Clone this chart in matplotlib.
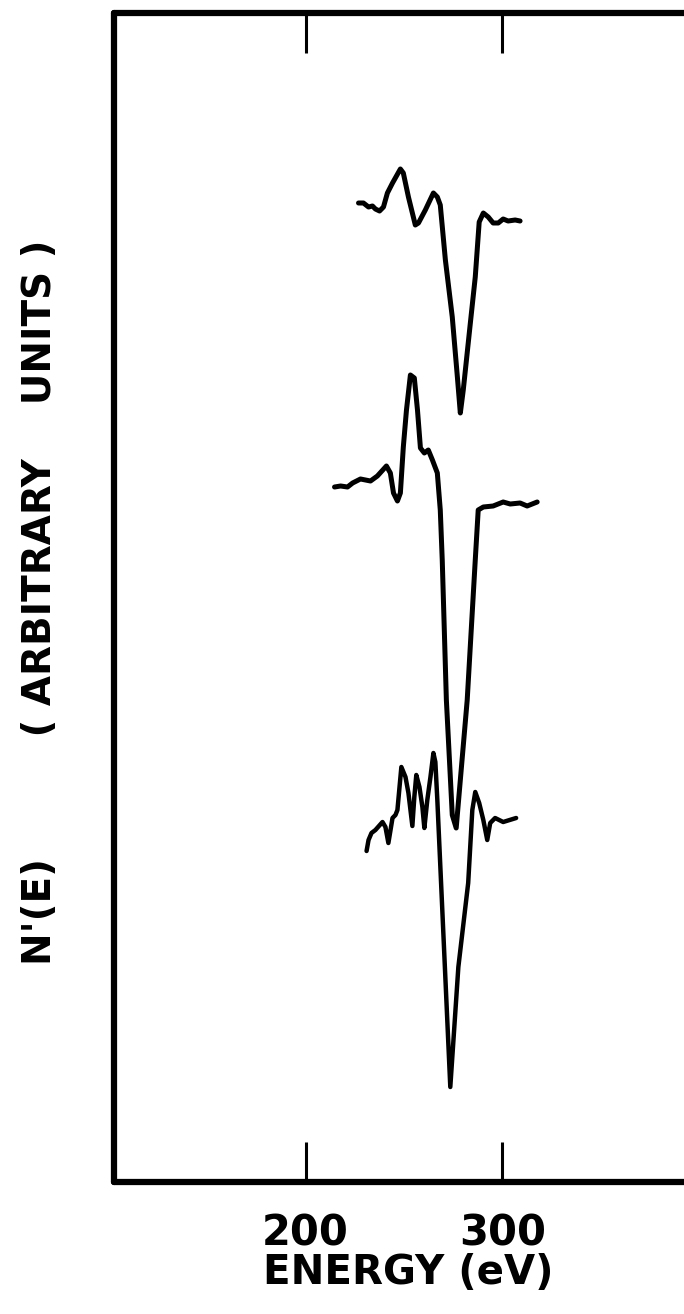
import matplotlib
matplotlib.use("Agg")
import matplotlib.pyplot as plt

# ---- data (energy in eV, signal in arbitrary units) ----
e_top = [226.9, 229.4, 232.0, 234.0, 235.5, 237.6, 239.6, 241.6, 244.2, 248.2, 249.7,
         252.3, 255.8, 257.4, 260.9, 265.0, 267.0, 268.5, 271.1, 274.6, 277.2, 278.7,
         280.2, 283.8, 286.3, 288.3, 290.4, 292.9, 295.4, 298.0, 300.5, 303.0, 306.6, 309.1]
n_top = [9.79, 9.79, 9.75, 9.76, 9.73, 9.71, 9.75, 9.89, 9.99, 10.13, 10.09,
         9.85, 9.57, 9.59, 9.72, 9.89, 9.85, 9.77, 9.22, 8.65, 8.05, 7.69,
         7.92, 8.59, 9.05, 9.60, 9.69, 9.65, 9.59, 9.59, 9.63, 9.61, 9.62, 9.61]

e_mid = [214.7, 217.8, 221.3, 223.9, 227.9, 233.0, 236.5, 241.1, 243.1, 244.7, 246.7,
         248.2, 249.7, 251.3, 253.3, 255.3, 256.9, 258.4, 260.4, 262.4, 264.5, 267.0,
         268.5, 269.5, 271.6, 274.6, 276.6, 282.2, 286.3, 287.8, 290.4, 295.4, 300.5,
         304.1, 309.1, 312.7, 317.8]
n_mid = [6.95, 6.96, 6.95, 6.99, 7.03, 7.01, 7.06, 7.16, 7.09, 6.89, 6.81,
         6.89, 7.35, 7.72, 8.07, 8.04, 7.72, 7.34, 7.29, 7.32, 7.22, 7.09,
         6.72, 6.22, 4.82, 3.67, 3.54, 4.82, 6.22, 6.72, 6.75, 6.76, 6.80,
         6.78, 6.79, 6.76, 6.80]

e_bot = [231.0, 232.0, 233.5, 235.5, 239.1, 240.6, 242.1, 244.2, 245.7, 246.7, 248.7,
         250.8, 252.3, 254.3, 255.3, 256.3, 257.9, 259.4, 260.4, 261.9, 263.5, 265.0,
         266.0, 267.0, 273.6, 277.7, 282.7, 284.8, 286.3, 288.3, 290.4, 292.4, 293.9,
         296.4, 300.5, 307.1]
n_bot = [3.31, 3.42, 3.49, 3.52, 3.60, 3.55, 3.39, 3.64, 3.67, 3.72, 4.15,
         4.05, 3.89, 3.56, 3.85, 4.07, 3.95, 3.75, 3.54, 3.82, 4.05, 4.29,
         4.20, 3.82, 0.95, 2.15, 2.99, 3.72, 3.90, 3.79, 3.62, 3.42, 3.59,
         3.64, 3.60, 3.64]

tick_values = [200, 300]
tick_labels = ["200", "300"]

W, H = 684, 1314
fig = plt.figure(figsize=(W / 100, H / 100), dpi=100)
ax = fig.add_axes([114 / W, (H - 1182) / H, 1 - 114 / W, (1182 - 13) / H])

for e, n, lw in [(e_top, n_top, 3.6), (e_mid, n_mid, 3.6), (e_bot, n_bot, 3.2)]:
    ax.plot(e, n, color="black", lw=lw, solid_joinstyle="round", solid_capstyle="round")

ax.set_xlim(102.5, 392.5)
ax.set_ylim(0, 11.69)

for s in ["left", "top", "bottom"]:
    ax.spines[s].set_linewidth(4.5)
    ax.spines[s].set_capstyle("round")
ax.spines["right"].set_visible(False)

ax.set_xticks(tick_values)
ax.set_xticklabels(tick_labels)
ax.set_yticks([])
ax.tick_params(axis="x", direction="in", length=29, width=2.2, top=True,
               bottom=True, labeltop=False, pad=22, labelsize=30)
for lab in ax.get_xticklabels():
    lab.set_fontweight("bold")

ax.set_xlabel("ENERGY (eV)", fontsize=29, fontweight="bold")
ax.xaxis.set_label_coords(0.517, -0.061)

fig.text(40 / W, 1 - 602 / H, "N'(E)         ( ARBITRARY    UNITS )", rotation=90,
         ha="center", va="center", fontsize=28, fontweight="bold")

fig.savefig("out.png", dpi=100, facecolor="white")
